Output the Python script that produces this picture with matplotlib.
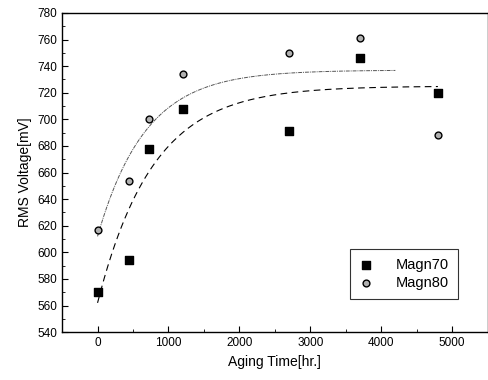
import numpy as np
import matplotlib
matplotlib.use("Agg")
import matplotlib.pyplot as plt
from matplotlib.ticker import MultipleLocator

plt.rcParams['font.family'] = ['Liberation Sans', 'DejaVu Sans']

# measured data
hours = [0, 450, 730, 1200, 2700, 3700, 4800]
magn70 = [570, 594, 678, 708, 691, 746, 720]
magn80 = [617, 654, 700, 734, 750, 761, 688]

# exponential fit curves: y = a - b * exp(-t / tau)
fit70 = {"a": 725, "b": 163, "tau": 780, "t_end": 4800}
fit80 = {"a": 737, "b": 125, "tau": 673, "t_end": 4200}


def fit_curve(p):
    t = np.linspace(0, p["t_end"], 200)
    return t, p["a"] - p["b"] * np.exp(-t / p["tau"])


fig = plt.figure(figsize=(4.89, 3.80), dpi=100)
ax = fig.add_axes([0.127, 0.126, 0.870, 0.840])

t70, y70 = fit_curve(fit70)
t80, y80 = fit_curve(fit80)
ax.plot(t70, y70, color='black', lw=0.8, ls=(0, (6, 4)))
ax.plot(t80, y80, color='#555555', lw=0.7, ls=(0, (4, 1, 1, 1)))

ax.scatter(hours, magn70, marker='s', s=28, color='black', label='Magn70', zorder=3)
ax.scatter(hours, magn80, marker='o', s=24, facecolor='#b0b0b0', edgecolor='black',
           linewidths=1.0, label='Magn80', zorder=3)

ax.set_xlim(-500, 5500)
ax.set_ylim(540, 780)
ax.xaxis.set_major_locator(MultipleLocator(1000))
ax.xaxis.set_minor_locator(MultipleLocator(500))
ax.yaxis.set_major_locator(MultipleLocator(20))
ax.yaxis.set_minor_locator(MultipleLocator(10))
ax.tick_params(which='both', direction='in', top=False, right=False, labelsize=8.5)
ax.tick_params(which='major', length=4)
ax.tick_params(which='minor', length=2)
for s in ax.spines.values():
    s.set_linewidth(1.0)

ax.set_xlabel('Aging Time[hr.]', fontsize=10)
ax.set_ylabel('RMS Voltage[mV]', fontsize=10, labelpad=4)

leg = ax.legend(loc='lower right', bbox_to_anchor=(0.948, 0.082), fontsize=10.5,
                frameon=True, fancybox=False, edgecolor='black', handletextpad=1.6,
                borderpad=0.6, labelspacing=0.3, handlelength=1.0)
leg.get_frame().set_linewidth(0.8)

fig.savefig('out.png', dpi=100)
